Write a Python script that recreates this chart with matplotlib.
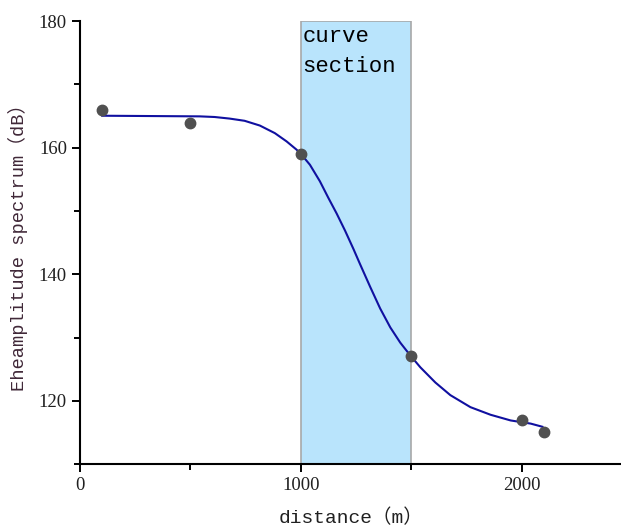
import matplotlib.pyplot as plt
from matplotlib.ticker import MultipleLocator

# measured points
distance = [100, 500, 1000, 1500, 2000, 2100]
amplitude = [166.0, 163.9, 159.0, 127.1, 117.0, 115.0]

# fitted curve, sampled along its length
fit_x = [100, 541, 609, 677, 745, 814, 882, 935, 980, 998, 1041, 1086, 1124,
         1162, 1200, 1238, 1268, 1314, 1359, 1405, 1450, 1495, 1541, 1609,
         1677, 1768, 1859, 1950, 2041, 2094]
fit_y = [165.05, 164.95, 164.85, 164.6, 164.25, 163.5, 162.3, 161.0, 159.7,
         159.1, 157.3, 154.7, 152.1, 149.6, 146.9, 144.0, 141.6, 138.0,
         134.6, 131.6, 129.2, 127.2, 125.3, 122.9, 120.9, 119.0, 117.8,
         116.9, 116.4, 115.9]

section = (1000, 1500)

mono = ['Liberation Mono', 'Noto Sans CJK SC']

fig = plt.figure(figsize=(6.21, 5.28), dpi=100)
ax = fig.add_axes([0.129, 0.121, 0.871, 0.839])

ax.axvspan(section[0], section[1], facecolor='#b9e4fc', edgecolor='#a8a8a8',
           linewidth=1.2, zorder=1)
ax.text(section[0] + 8, 179.2, "curve\nsection", family=mono, fontsize=16,
        va='top', ha='left', linespacing=1.55, zorder=4)

ax.plot(fit_x, fit_y, color='#1010a0', linewidth=1.5, zorder=3,
        solid_joinstyle='round')
ax.plot(distance, amplitude, 'o', color='#505050', markersize=7.5, zorder=4)

ax.set_xlim(0, 2450)
ax.set_ylim(110, 180)
ax.xaxis.set_major_locator(MultipleLocator(1000))
ax.xaxis.set_minor_locator(MultipleLocator(500))
ax.yaxis.set_major_locator(MultipleLocator(20))
ax.yaxis.set_minor_locator(MultipleLocator(10))

for side in ['top', 'right']:
    ax.spines[side].set_visible(False)
for side in ['left', 'bottom']:
    ax.spines[side].set_linewidth(1.5)

ax.tick_params(which='major', direction='out', length=6, width=1.4)
ax.tick_params(which='minor', direction='out', length=4, width=1.4)
for lbl in ax.get_xticklabels() + ax.get_yticklabels():
    lbl.set_family('Liberation Serif')
    lbl.set_fontsize(13.5)
    lbl.set_color('#202020')

ax.set_xlabel("distance（m）", family=mono, fontsize=14, color='#202020',
              labelpad=10)
ax.set_ylabel("Eheamplitude spectrum（dB）", family=mono, fontsize=13.5,
              color='#402838', labelpad=8)

fig.savefig("out.png", dpi=100)
